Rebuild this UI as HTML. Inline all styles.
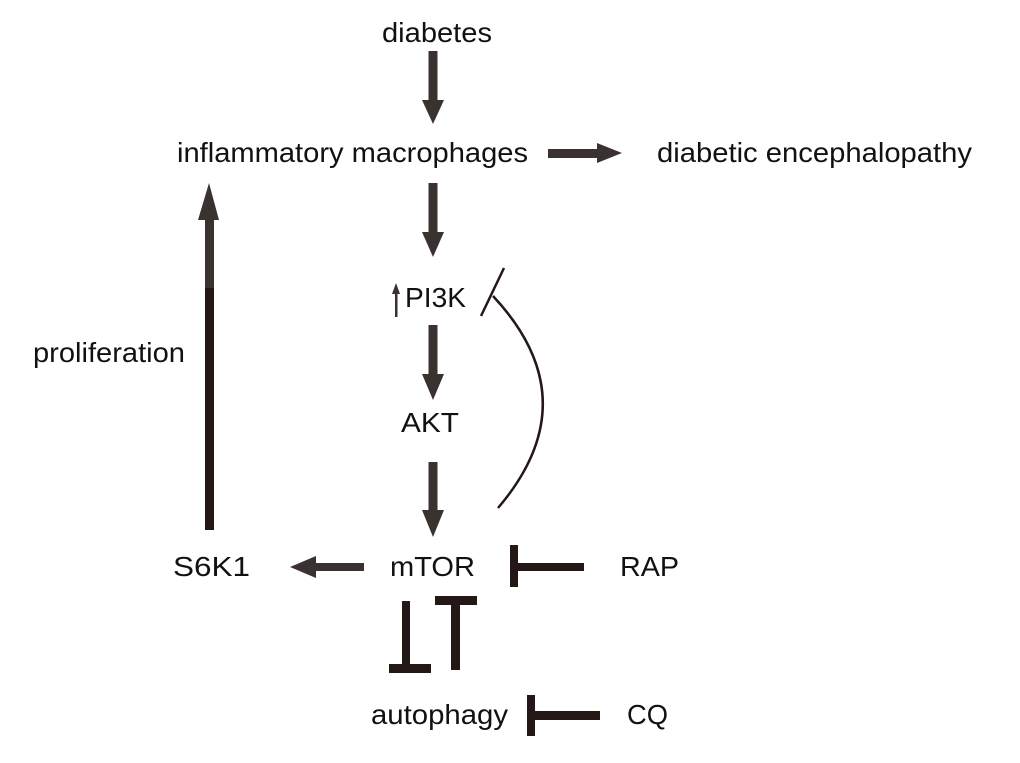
<!DOCTYPE html>
<html><head><meta charset="utf-8"><style>
html,body{margin:0;padding:0;background:#fff;}
svg{display:block;}
text{font-family:"Liberation Sans",sans-serif;font-size:28px;fill:#111;}
</style></head><body>
<svg width="1020" height="763" viewBox="0 0 1020 763" xmlns="http://www.w3.org/2000/svg">
<g fill="#3a3230">
<rect x="428.5" y="51" width="9" height="49"/>
<polygon points="422,100 444,100 433,124"/>
<rect x="548" y="149" width="50" height="9"/>
<polygon points="597,143 597,163 622,153"/>
<rect x="428.5" y="183" width="9" height="50"/>
<polygon points="422,232 444,232 433,257"/>
<rect x="428.5" y="325" width="9" height="50"/>
<polygon points="422,374 444,374 433,400"/>
<rect x="428.5" y="462" width="9" height="50"/>
<polygon points="422,510 444,510 433,537"/>
<rect x="314" y="563" width="50" height="8"/>
<polygon points="316,556 316,578 290,567"/>
<rect x="395" y="293" width="2.5" height="24"/>
<polygon points="392,294 400,294 396,283"/>
<rect x="205" y="218" width="9" height="312"/>
<polygon points="198,220 219,220 209,183"/>
</g>
<g fill="#231815">
<rect x="205" y="288" width="9" height="242"/>
<rect x="510" y="545" width="8" height="42"/>
<rect x="517" y="563" width="67" height="8"/>
<rect x="402" y="601" width="8" height="66"/>
<rect x="389" y="664" width="42" height="9"/>
<rect x="435" y="596" width="42" height="9"/>
<rect x="451" y="605" width="9" height="65"/>
<rect x="527" y="695" width="8" height="41"/>
<rect x="535" y="711" width="65" height="9"/>
</g>
<line x1="481" y1="316" x2="504" y2="268" stroke="#231815" stroke-width="2.5"/>
<path d="M493,296 Q590,400 498,508" fill="none" stroke="#231815" stroke-width="2.5"/>
<text x="382" y="42" textLength="110" lengthAdjust="spacingAndGlyphs">diabetes</text>
<text x="177" y="162" textLength="351" lengthAdjust="spacingAndGlyphs">inflammatory macrophages</text>
<text x="657" y="162" textLength="315" lengthAdjust="spacingAndGlyphs">diabetic encephalopathy</text>
<text x="405" y="307" textLength="61" lengthAdjust="spacingAndGlyphs">PI3K</text>
<text x="33" y="362" textLength="152" lengthAdjust="spacingAndGlyphs">proliferation</text>
<text x="401" y="432" textLength="58" lengthAdjust="spacingAndGlyphs">AKT</text>
<text x="173" y="576" textLength="77" lengthAdjust="spacingAndGlyphs">S6K1</text>
<text x="390" y="576" textLength="85" lengthAdjust="spacingAndGlyphs">mTOR</text>
<text x="620" y="576" textLength="59" lengthAdjust="spacingAndGlyphs">RAP</text>
<text x="371" y="724" textLength="137" lengthAdjust="spacingAndGlyphs">autophagy</text>
<text x="627" y="724" textLength="41" lengthAdjust="spacingAndGlyphs">CQ</text>
</svg>
</body></html>
